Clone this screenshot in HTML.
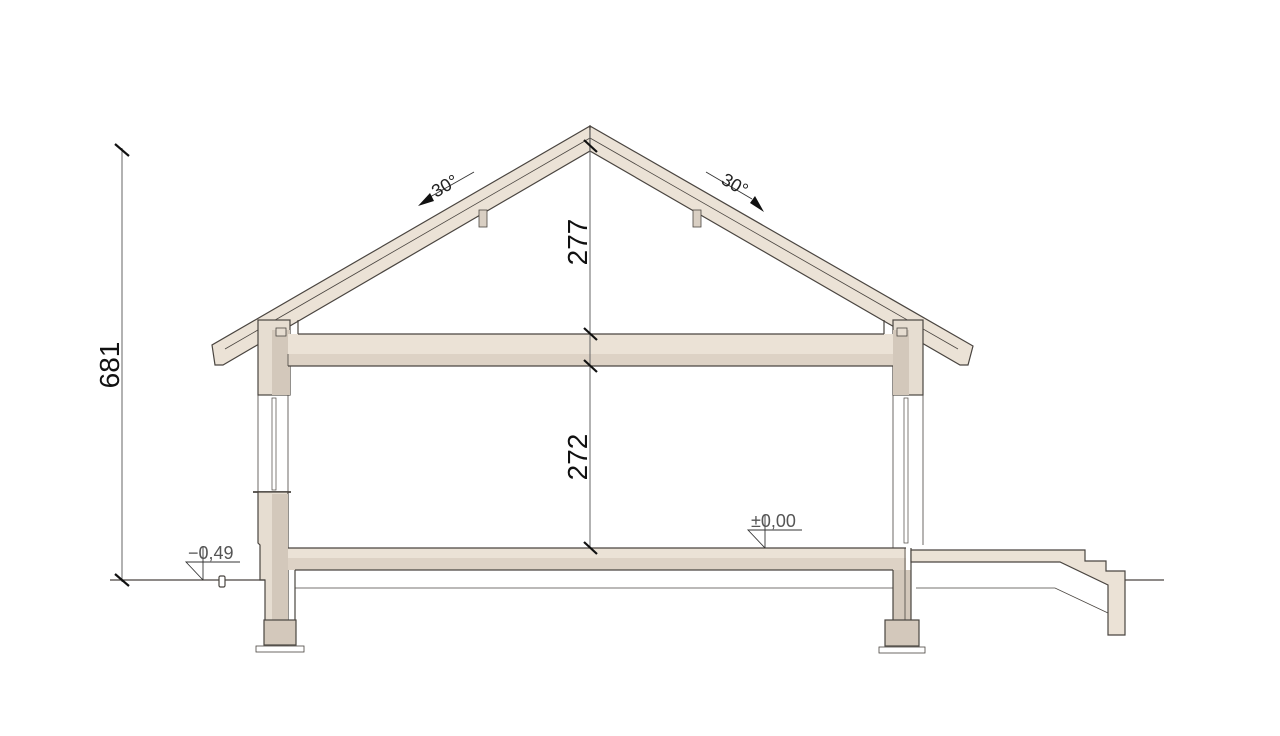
<!DOCTYPE html>
<html><head><meta charset="utf-8"><style>
html,body{margin:0;padding:0;background:#fff;width:1280px;height:736px;overflow:hidden}
svg{display:block}
text{font-family:"Liberation Sans",sans-serif}
</style></head><body>
<svg width="1280" height="736" viewBox="0 0 1280 736" xmlns="http://www.w3.org/2000/svg">
<g stroke="#4a4540" stroke-width="1.2">
<!-- roof -->
<polygon points="590,126 212,345 215,365 223,365 590,151" fill="#ebe2d6"/>
<polygon points="590,126 973,346 968,365 960,365 590,151" fill="#ebe2d6"/>
<line x1="590" y1="138" x2="225" y2="349" stroke-width="0.8"/>
<line x1="590" y1="138" x2="958" y2="349" stroke-width="0.8"/>
<line x1="590" y1="126" x2="590" y2="151" stroke-width="0.8"/>
<!-- purlins -->
<rect x="479" y="210" width="8" height="17" fill="#d9cfc3" stroke-width="0.8"/>
<rect x="693" y="210" width="8" height="17" fill="#d9cfc3" stroke-width="0.8"/>
<!-- left wall upper -->
<rect x="258" y="320" width="32" height="75" fill="#e6ddd1"/>
<rect x="272" y="330" width="18" height="65" fill="#d3c8bb" stroke="none"/>
<rect x="276" y="328" width="10" height="8" fill="#e6ddd1" stroke-width="0.8"/>
<!-- right wall upper -->
<rect x="893" y="320" width="30" height="75" fill="#e6ddd1"/>
<rect x="893" y="330" width="16" height="65" fill="#d3c8bb" stroke="none"/>
<rect x="897" y="328" width="10" height="8" fill="#e6ddd1" stroke-width="0.8"/>
<!-- ceiling slab -->
<rect x="288" y="334" width="605" height="32" fill="#ebe2d6" stroke="none"/>
<rect x="288" y="354" width="605" height="12" fill="#ddd2c5" stroke="none"/>
<line x1="298" y1="334" x2="884" y2="334"/>
<line x1="298" y1="320" x2="298" y2="334"/>
<line x1="884" y1="320" x2="884" y2="334"/>
<line x1="288" y1="366" x2="893" y2="366"/>
<line x1="288" y1="354" x2="288" y2="366" stroke-width="0.8"/>
<!-- windows -->
<line x1="258" y1="395" x2="258" y2="492" stroke-width="0.8"/>
<line x1="288" y1="395" x2="288" y2="548" stroke-width="0.8"/>
<rect x="272" y="398" width="4" height="92" fill="#fff" stroke-width="0.7"/>
<line x1="893" y1="395" x2="893" y2="548" stroke-width="0.8"/>
<line x1="923" y1="395" x2="923" y2="545" stroke-width="0.8"/>
<rect x="904" y="398" width="4" height="145" fill="#fff" stroke-width="0.7"/>
<line x1="253" y1="492" x2="291" y2="492" stroke-width="1.8"/>
<!-- left wall lower -->
<polygon points="258,492 288,492 288,645 265,645 265,580 260,580 260,545 258,543" fill="#e6ddd1"/>
<rect x="272" y="494" width="16" height="126" fill="#d3c8bb" stroke="none"/>
<rect x="264" y="620" width="32" height="25" fill="#d3c8bb"/>
<rect x="256" y="646" width="48" height="6" fill="#fff" stroke-width="0.8"/>
<!-- floor slab -->
<rect x="288" y="548" width="618" height="22" fill="#ebe2d6" stroke="none"/>
<rect x="288" y="558" width="618" height="12" fill="#ddd2c5" stroke="none"/>
<line x1="288" y1="548" x2="906" y2="548"/>
<line x1="295" y1="570" x2="893" y2="570"/>
<line x1="295" y1="570" x2="295" y2="620"/>
<line x1="295" y1="588" x2="893" y2="588" stroke-width="0.8"/>
<!-- right foundation -->
<rect x="893" y="570" width="18" height="50" fill="#d3c8bb" stroke="none"/>
<line x1="893" y1="570" x2="893" y2="620"/>
<line x1="905" y1="548" x2="905" y2="620" stroke-width="0.8"/>
<line x1="911" y1="548" x2="911" y2="620"/>
<rect x="885" y="620" width="34" height="26" fill="#d3c8bb"/>
<rect x="879" y="647" width="46" height="6" fill="#fff" stroke-width="0.8"/>
<!-- terrace -->
<polygon points="911,550 1085,550 1085,561 1106,561 1106,571 1125,571 1125,635 1108,635 1108,585 1060,562 911,562" fill="#ebe2d6"/>
<polyline points="916,588 1055,588 1108,613" fill="none" stroke-width="0.8"/>
<line x1="1125" y1="580" x2="1164" y2="580"/>
<!-- ground left -->
<line x1="110" y1="580" x2="265" y2="580"/>
<rect x="219" y="576" width="6" height="11" rx="1.5" fill="#fff"/>
</g>
<!-- dimension lines -->
<g stroke="#666" stroke-width="1">
<line x1="122" y1="148" x2="122" y2="582"/>
<line x1="590" y1="130" x2="590" y2="548"/>
</g>
<g stroke="#111" stroke-width="2.2">
<line x1="115" y1="144" x2="129" y2="156"/>
<line x1="115" y1="574" x2="129" y2="586"/>
<line x1="584" y1="140" x2="597" y2="152"/>
<line x1="584" y1="328" x2="597" y2="340"/>
<line x1="584" y1="360" x2="597" y2="372"/>
<line x1="584" y1="542" x2="597" y2="554"/>
</g>
<g stroke="#333" stroke-width="0.9" fill="none">
<line x1="430" y1="197" x2="474" y2="172"/>
<line x1="706" y1="172" x2="752" y2="199"/>
<polyline points="765,548 748,530 802,530"/><line x1="765" y1="515" x2="765" y2="548"/>
<polyline points="203,580 186,562 240,562"/><line x1="203" y1="546" x2="203" y2="580"/>
</g>
<polygon points="418,206 430,193 434,201" fill="#111"/>
<polygon points="764,212 750,203 755,196" fill="#111"/>
<g fill="#111" font-size="28">
<text transform="translate(119,365) rotate(-90)" text-anchor="middle">681</text>
<text transform="translate(587,242) rotate(-90)" text-anchor="middle">277</text>
<text transform="translate(587,457) rotate(-90)" text-anchor="middle">272</text>
</g>
<g fill="#222" font-size="18">
<text transform="translate(436,198) rotate(-30)">30°</text>
<text transform="translate(720,183) rotate(30)">30°</text>
</g>
<g fill="#555" font-size="18">
<text x="751" y="527">±0,00</text>
<text x="188" y="559">−0,49</text>
</g>
</svg>
</body></html>
